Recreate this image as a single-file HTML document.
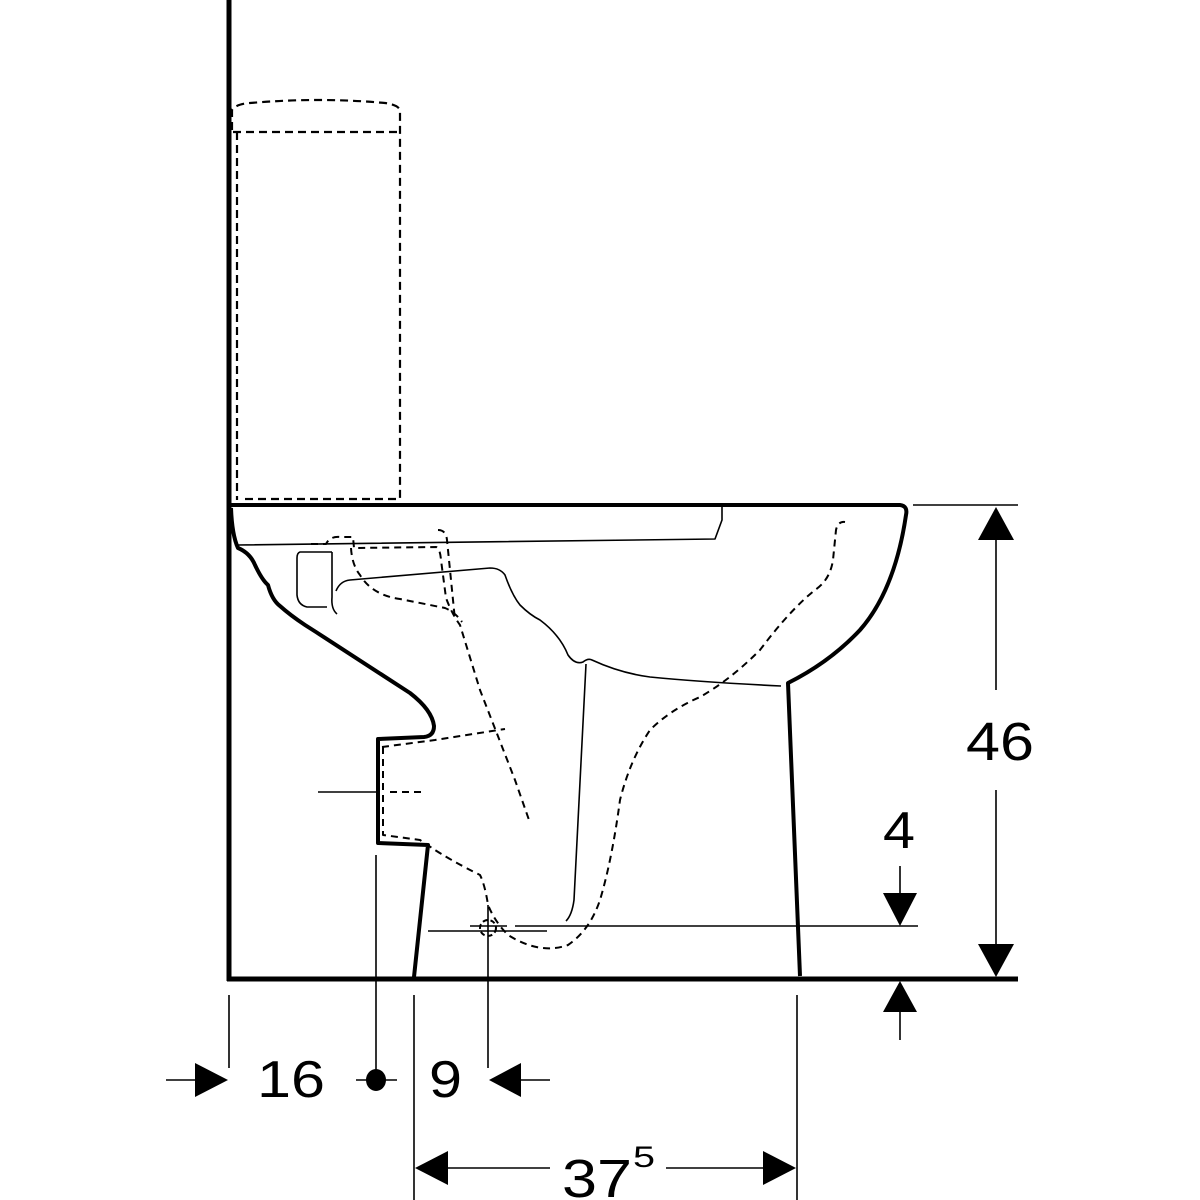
<!DOCTYPE html>
<html><head><meta charset="utf-8"><style>
html,body{margin:0;padding:0;background:#fff;}
svg{display:block;}
text{font-family:"Liberation Sans",Arial,sans-serif;fill:#000;}
</style></head><body>
<svg width="1200" height="1200" viewBox="0 0 1200 1200" xmlns="http://www.w3.org/2000/svg">
<g fill="none" stroke="#000" stroke-linejoin="round">
<!-- wall & floor -->
<line x1="229" y1="0" x2="229" y2="981" stroke-width="5"/>
<line x1="227" y1="979" x2="1018" y2="979" stroke-width="5"/>
<!-- tank dashed -->
<g stroke-width="2.2" stroke-dasharray="8,5">
<path d="M232,130 L232,110 Q236,104 250,103 Q320,97 385,103 Q398,105 400,110 L400,500"/>
<line x1="233" y1="132" x2="400" y2="132"/>
<line x1="237" y1="132" x2="237" y2="500"/>
<line x1="245" y1="499" x2="400" y2="499"/>
</g>
<!-- seat top and bowl outer -->
<path d="M229,505 L900,505 Q908,506 906,515 Q895,590 860,630 Q830,662 788,683 L800,976" stroke-width="4"/>
<!-- left profile -->
<path d="M231,508 Q232,535 238,548 Q250,553 255,565 Q262,580 268,585 Q272,600 280,606 Q290,615 305,625 L316,632 L410,693 Q432,710 434,726 Q434,736 424,737 L378,739 L378,843 L428,845 L414,977" stroke-width="4"/>
<!-- inner thin lines -->
<g stroke-width="1.6">
<path d="M238,545 L715,539 L722,520 L722,507"/>
<path d="M336,591 Q340,581 350,580 L490,568 Q500,568 505,575 Q512,595 520,605 Q530,615 540,620 Q560,635 568,655 Q575,665 583,662 Q588,658 592,660 Q620,673 650,677 Q700,682 781,686"/>
<path d="M332,552 L300,552 Q297,553 297,558 L297,595 Q298,605 307,607 L327,607"/>
<path d="M332,552 L332,597 Q331,609 337,614"/>
<path d="M586,664 L574,900 Q572,915 566,921"/>
</g>
<!-- dashed internals -->
<g stroke-width="2" stroke-dasharray="7,5">
<path d="M311,544 L326,544 Q330,536 340,537 L353,537 L354,548 L436,547 Q440,548 441,560 L446,598 Q452,614 460,625 L480,690 L515,780 L529,820"/>
<path d="M438,530 Q446,530 447,540 L455,620"/>
<path d="M351,548 Q352,565 360,575 Q372,595 400,599 L445,608 Q455,612 462,622"/>
<path d="M382,747 L435,740 L505,729"/>
<path d="M383,747 L383,835 L420,840 L432,848 Q450,860 480,875 Q485,885 488,905 Q495,922 508,935 Q540,955 568,945 Q590,930 600,900 Q612,860 620,800 Q630,760 650,730 Q670,710 700,697 Q730,680 760,650 Q790,610 815,590 Q830,580 833,560 L836,530 Q838,521 845,522"/>
<line x1="390" y1="792" x2="425" y2="792"/>
</g>
<line x1="318" y1="792" x2="378" y2="792" stroke-width="1.6"/>
<!-- drain center mark -->
<circle cx="488" cy="928" r="8" stroke-width="2" stroke-dasharray="5,3"/>
<line x1="428" y1="931" x2="547" y2="931" stroke-width="1.6"/>
<line x1="515" y1="926" x2="918" y2="926" stroke-width="1.6"/>
<line x1="470" y1="926" x2="507" y2="926" stroke-width="1.6"/>
<line x1="488" y1="905" x2="488" y2="1068" stroke-width="1.6"/>
<!-- dimension extension lines -->
<g stroke-width="1.6">
<line x1="229" y1="995" x2="229" y2="1068"/>
<line x1="376" y1="855" x2="376" y2="1083"/>
<line x1="414" y1="995" x2="414" y2="1200"/>
<line x1="797" y1="995" x2="797" y2="1200"/>
<line x1="913" y1="505" x2="1018" y2="505"/>
<line x1="996" y1="530" x2="996" y2="690"/>
<line x1="996" y1="790" x2="996" y2="950"/>
<line x1="900" y1="866" x2="900" y2="895"/>
<line x1="900" y1="1010" x2="900" y2="1040"/>
<line x1="166" y1="1080" x2="195" y2="1080"/>
<line x1="356" y1="1080" x2="397" y2="1080"/>
<line x1="520" y1="1080" x2="550" y2="1080"/>
<line x1="445" y1="1168" x2="550" y2="1168"/>
<line x1="666" y1="1168" x2="770" y2="1168"/>
</g>
</g>
<g fill="#000">
<polygon points="996,507 978,540 1014,540"/>
<polygon points="996,977 978,944 1014,944"/>
<polygon points="900,926 883,893 917,893"/>
<polygon points="900,981 883,1012 917,1012"/>
<polygon points="228,1080 195,1063 195,1097"/>
<polygon points="489,1080 521,1063 521,1097"/>
<polygon points="415,1168 448,1151 448,1185"/>
<polygon points="796,1168 763,1151 763,1185"/>
<ellipse cx="376" cy="1080" rx="10" ry="11"/>
<text x="966" y="760" font-size="54" textLength="68" lengthAdjust="spacingAndGlyphs">46</text>
<text x="883" y="848" font-size="52" textLength="32" lengthAdjust="spacingAndGlyphs">4</text>
<text x="257" y="1097" font-size="52" textLength="68" lengthAdjust="spacingAndGlyphs">16</text>
<text x="429" y="1097" font-size="52" textLength="33" lengthAdjust="spacingAndGlyphs">9</text>
<text x="562" y="1197" font-size="54" textLength="70" lengthAdjust="spacingAndGlyphs">37</text>
<text x="633" y="1167" font-size="30" textLength="22" lengthAdjust="spacingAndGlyphs">5</text>
</g>
</svg>
</body></html>
